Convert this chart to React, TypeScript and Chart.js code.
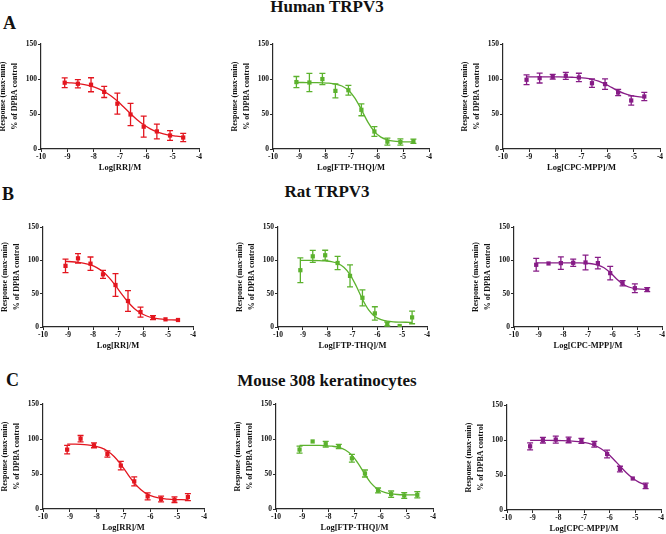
import React, { useEffect, useRef } from "react";
import { Chart, registerables } from "chart.js";

Chart.register(...registerables);

// ---------- data ----------
const doseLog = [-9.1, -8.6, -8.1, -7.6, -7.1, -6.6, -6.1, -5.6, -5.1, -4.6];
const fitLog = [-9.1, -8.85, -8.6, -8.35, -8.1, -7.85, -7.6, -7.35, -7.1, -6.85, -6.6, -6.35, -6.1, -5.85, -5.6, -5.35, -5.1, -4.85, -4.6];
const xTickValues = [-10, -9, -8, -7, -6, -5, -4];
const yTickValues = [0, 50, 100, 150];

const humanRRMean = [94.7, 93.2, 91.8, 81.6, 64.7, 49.3, 31.9, 25.1, 19.3, 16.4];
const humanRRErr = [7, 6, 10, 8, 15, 16, 15, 10.5, 7, 6];
const humanRRFit = [95.0, 94.4, 93.4, 92.0, 89.9, 86.7, 82.2, 76.1, 68.5, 59.7, 50.5, 41.9, 34.6, 28.8, 24.6, 21.6, 19.6, 18.4, 17.5];

const humanFTPMean = [95.6, 95, 99.9, 83, 84, 56, 25, 10.5, 10, 11];
const humanFTPErr = [8, 13, 8, 10, 7, 8.5, 7, 5, 4.5, 3];
const humanFTPFit = [95.0, 95.0, 94.9, 94.8, 94.6, 94.1, 92.8, 90.0, 83.9, 72.7, 56.2, 38.4, 24.8, 17.0, 13.1, 11.3, 10.6, 10.2, 10.1];

const humanCPCMean = [98.9, 101.3, 103.2, 104.6, 102.2, 94, 92.7, 80.7, 69.3, 75];
const humanCPCErr = [7, 7, 3.5, 5, 6, 6, 7.5, 4.5, 6.5, 6];
const humanCPCFit = [103.0, 103.0, 103.0, 103.0, 102.9, 102.9, 102.8, 102.5, 102.1, 101.2, 99.6, 97.0, 93.0, 88.0, 83.0, 79.0, 76.4, 74.8, 73.9];

const ratRRMean = [91.7, 103, 95, 79, 63, 39, 22.4, 14, 11.5, 10.5];
const ratRRErr = [10, 7, 10, 6, 17, 15.5, 7.5, 3, 0, 0];
const ratRRFit = [98.4, 97.9, 97.0, 95.6, 93.1, 89.0, 82.7, 73.7, 62.1, 49.4, 37.5, 27.9, 21.0, 16.5, 13.8, 12.2, 11.2, 10.7, 10.4];

const ratFTPMean = [85.2, 106, 107.6, 96, 76.7, 43.8, 20.4, 4.5, 1.5, 14.4];
const ratFTPErr = [18.5, 9, 7.5, 10, 16.5, 12, 10, 3, 0, 9.5];
const ratFTPFit = [100, 99.9, 99.8, 99.6, 99.1, 98.0, 95.3, 89.6, 78.6, 61.5, 41.7, 25.7, 15.9, 11.0, 8.7, 7.7, 7.3, 7.1, 7.05];

const ratCPCMean = [93.3, 95.3, 95.8, 96.3, 96.8, 95.8, 80.8, 65.7, 58.2, 56.2];
const ratCPCErr = [9.5, 0, 9.5, 5.5, 11, 8.5, 10, 4, 6.5, 3];
const ratCPCFit = [96.3, 96.3, 96.3, 96.3, 96.3, 96.3, 96.2, 96.1, 95.7, 94.9, 92.9, 88.8, 81.6, 72.5, 64.7, 60.0, 57.7, 56.7, 56.3];

const mouseRRMean = [84.8, 100.5, 91, 78.6, 62, 39.5, 18, 14.3, 13.3, 17.1];
const mouseRRErr = [6, 4.5, 3.5, 4.5, 6, 6.5, 5, 4, 4, 5];
const mouseRRFit = [92.8, 92.6, 92.3, 91.6, 90.2, 87.6, 82.9, 75.1, 63.8, 50.2, 37.3, 27.4, 20.9, 17.2, 15.1, 14.1, 13.5, 13.3, 13.1];

const mouseFTPMean = [84.9, 96.5, 92.6, 89.2, 72.4, 50.7, 26.5, 21.2, 19.3, 20.3];
const mouseFTPErr = [5, 0, 4, 3, 5.5, 5, 3.5, 4.5, 4, 4.5];
const mouseFTPFit = [91.0, 91.0, 90.9, 90.8, 90.4, 89.7, 88.0, 84.2, 76.8, 64.5, 49.4, 36.3, 27.9, 23.6, 21.6, 20.7, 20.3, 20.1, 20.05];

const mouseCPCMean = [91, 99.7, 100.6, 100.1, 98.7, 93.9, 80, 58.5, 45, 34.5];
const mouseCPCErr = [5, 4, 5, 4, 3.5, 4, 5.5, 4, 0, 4];
const mouseCPCFit = [99.5, 99.5, 99.4, 99.4, 99.3, 99.1, 98.7, 98.1, 97.1, 95.4, 92.5, 87.9, 81.3, 72.6, 62.8, 53.2, 45.3, 39.5, 35.7];

const xTitles = ["Log[RR]/M", "Log[FTP-THQ]/M", "Log[CPC-MPP]/M"];
const yTitleLines = ["Response (max-min)", "% of DPBA control"];
const rowTitles = ["Human TRPV3", "Rat TRPV3", "Mouse 308 keratinocytes"];
const rowLetters = ["A", "B", "C"];

// ---------- styles / layout ----------
const RED = "#e3161f";
const GREEN = "#5cb22e";
const PURPLE = "#871c87";
const AXIS = "#2a2a2a";
const FONT = "'Liberation Serif', 'Times New Roman', serif";

const Y_SCALE_W = 44;
const X_SCALE_H = 24;
const PAD_T = 6;
const PAD_R = 6;

// plot-area geometry for each panel: y-axis x, top (150) y, bottom (0) y, right (-4) x
const panelGeom = [
  { ax: 41, top: 44, bot: 149, right: 199 },
  { ax: 273, top: 44, bot: 149, right: 429 },
  { ax: 503, top: 44, bot: 149, right: 660 },
  { ax: 43, top: 227, bot: 327, right: 193 },
  { ax: 278, top: 227, bot: 327, right: 427 },
  { ax: 514, top: 227, bot: 327, right: 662 },
  { ax: 43, top: 404, bot: 509, right: 204 },
  { ax: 276, top: 404, bot: 509, right: 433 },
  { ax: 507, top: 405, bot: 510, right: 661 },
];

const panelSeries = [
  { mean: humanRRMean, err: humanRRErr, fit: humanRRFit, color: RED, xt: 0 },
  { mean: humanFTPMean, err: humanFTPErr, fit: humanFTPFit, color: GREEN, xt: 1 },
  { mean: humanCPCMean, err: humanCPCErr, fit: humanCPCFit, color: PURPLE, xt: 2 },
  { mean: ratRRMean, err: ratRRErr, fit: ratRRFit, color: RED, xt: 0 },
  { mean: ratFTPMean, err: ratFTPErr, fit: ratFTPFit, color: GREEN, xt: 1 },
  { mean: ratCPCMean, err: ratCPCErr, fit: ratCPCFit, color: PURPLE, xt: 2 },
  { mean: mouseRRMean, err: mouseRRErr, fit: mouseRRFit, color: RED, xt: 0 },
  { mean: mouseFTPMean, err: mouseFTPErr, fit: mouseFTPFit, color: GREEN, xt: 1 },
  { mean: mouseCPCMean, err: mouseCPCErr, fit: mouseCPCFit, color: PURPLE, xt: 2 },
];

const errorBarPlugin = {
  id: "errorBars",
  afterDatasetsDraw(chart: any) {
    const { ctx } = chart;
    const x = chart.scales.x;
    const y = chart.scales.y;
    chart.data.datasets.forEach((ds: any) => {
      const errs = ds.errors;
      if (!errs) return;
      ctx.save();
      ctx.strokeStyle = ds.borderColor;
      ctx.lineWidth = 1.3;
      ds.data.forEach((p: any, j: number) => {
        const e = errs[j];
        if (!e) return;
        const px = x.getPixelForValue(p.x);
        const t = y.getPixelForValue(p.y + e);
        const b = y.getPixelForValue(p.y - e);
        ctx.beginPath();
        ctx.moveTo(px, t);
        ctx.lineTo(px, b);
        ctx.moveTo(px - 3, t);
        ctx.lineTo(px + 3, t);
        ctx.moveTo(px - 3, b);
        ctx.lineTo(px + 3, b);
        ctx.stroke();
      });
      ctx.restore();
    });
  },
};

function Panel({ index }: { index: number }) {
  const ref = useRef<HTMLCanvasElement | null>(null);
  const g = panelGeom[index];
  const s = panelSeries[index];
  const cw = g.right - g.ax;
  const ch = g.bot - g.top;
  const w = Y_SCALE_W + cw + PAD_R;
  const h = PAD_T + ch + X_SCALE_H;
  const left = g.ax - Y_SCALE_W;
  const top = g.top - PAD_T;

  useEffect(() => {
    if (!ref.current) return;
    const chart = new Chart(ref.current, {
      type: "scatter",
      data: {
        datasets: [
          {
            data: fitLog.map((v, i) => ({ x: v, y: s.fit[i] })),
            showLine: true,
            borderColor: s.color,
            backgroundColor: s.color,
            borderWidth: 1.3,
            pointRadius: 0,
            cubicInterpolationMode: "monotone",
            order: 2,
          } as any,
          {
            data: doseLog.map((v, i) => ({ x: v, y: s.mean[i] })),
            errors: s.err,
            showLine: false,
            borderColor: s.color,
            backgroundColor: s.color,
            pointStyle: "rect",
            pointRadius: 3,
            pointBorderWidth: 0,
            order: 1,
          } as any,
        ],
      },
      options: {
        animation: false,
        responsive: false,
        maintainAspectRatio: false,
        layout: { padding: { top: PAD_T, right: PAD_R, left: 0, bottom: 0 } },
        plugins: { legend: { display: false }, tooltip: { enabled: false } },
        scales: {
          x: {
            type: "linear",
            min: -10,
            max: -4,
            afterBuildTicks: (sc: any) => {
              sc.ticks = xTickValues.map((v) => ({ value: v }));
            },
            afterFit: (sc: any) => {
              sc.height = X_SCALE_H;
            },
            grid: { drawOnChartArea: false, drawTicks: true, tickLength: 3, tickColor: AXIS, tickWidth: 1 },
            border: { display: true, color: AXIS, width: 1.2 },
            ticks: {
              padding: 1,
              color: "#111",
              font: { family: FONT, size: 7.5, weight: "bold" },
              callback: (v: any) => String(v),
            },
            title: {
              display: true,
              text: xTitles[s.xt],
              color: "#111",
              padding: 0,
              font: { family: FONT, size: 8.5, weight: "bold", lineHeight: 1.2 },
            },
          },
          y: {
            type: "linear",
            min: 0,
            max: 150,
            afterBuildTicks: (sc: any) => {
              sc.ticks = yTickValues.map((v) => ({ value: v }));
            },
            afterFit: (sc: any) => {
              sc.width = Y_SCALE_W;
            },
            grid: { drawOnChartArea: false, drawTicks: true, tickLength: 3, tickColor: AXIS, tickWidth: 1 },
            border: { display: true, color: AXIS, width: 1.2 },
            ticks: {
              padding: 1,
              color: "#111",
              font: { family: FONT, size: 7.5, weight: "bold" },
              callback: (v: any) => String(v),
            },
            title: {
              display: true,
              text: yTitleLines,
              color: "#111",
              padding: 0,
              font: { family: FONT, size: 8, weight: "bold", lineHeight: 1.5 },
            },
          },
        },
      } as any,
      plugins: [errorBarPlugin],
    });
    return () => chart.destroy();
  }, []);

  return (
    <canvas
      ref={ref}
      width={w}
      height={h}
      style={{ position: "absolute", left, top, width: w, height: h }}
    />
  );
}

const titleTops = [-2, 183, 372];
const letterPos = [
  { left: 3, top: 14 },
  { left: 2, top: 185 },
  { left: 6, top: 371 },
];

export default function App() {
  return (
    <div
      style={{
        position: "absolute",
        left: 0,
        top: 0,
        width: 666,
        height: 534,
        overflow: "hidden",
        background: "#fff",
        fontFamily: FONT,
      }}
    >
      {rowTitles.map((t, i) => (
        <div
          key={t}
          style={{
            position: "absolute",
            left: 0,
            width: 654,
            top: titleTops[i],
            textAlign: "center",
            fontSize: 17,
            lineHeight: "17px",
            fontWeight: "bold",
            color: "#111",
            whiteSpace: "nowrap",
          }}
        >
          {t}
        </div>
      ))}
      {rowLetters.map((l, i) => (
        <div
          key={l}
          style={{
            position: "absolute",
            left: letterPos[i].left,
            top: letterPos[i].top,
            fontSize: 18,
            lineHeight: "18px",
            fontWeight: "bold",
            color: "#111",
          }}
        >
          {l}
        </div>
      ))}
      {panelGeom.map((_, i) => (
        <Panel key={i} index={i} />
      ))}
    </div>
  );
}
